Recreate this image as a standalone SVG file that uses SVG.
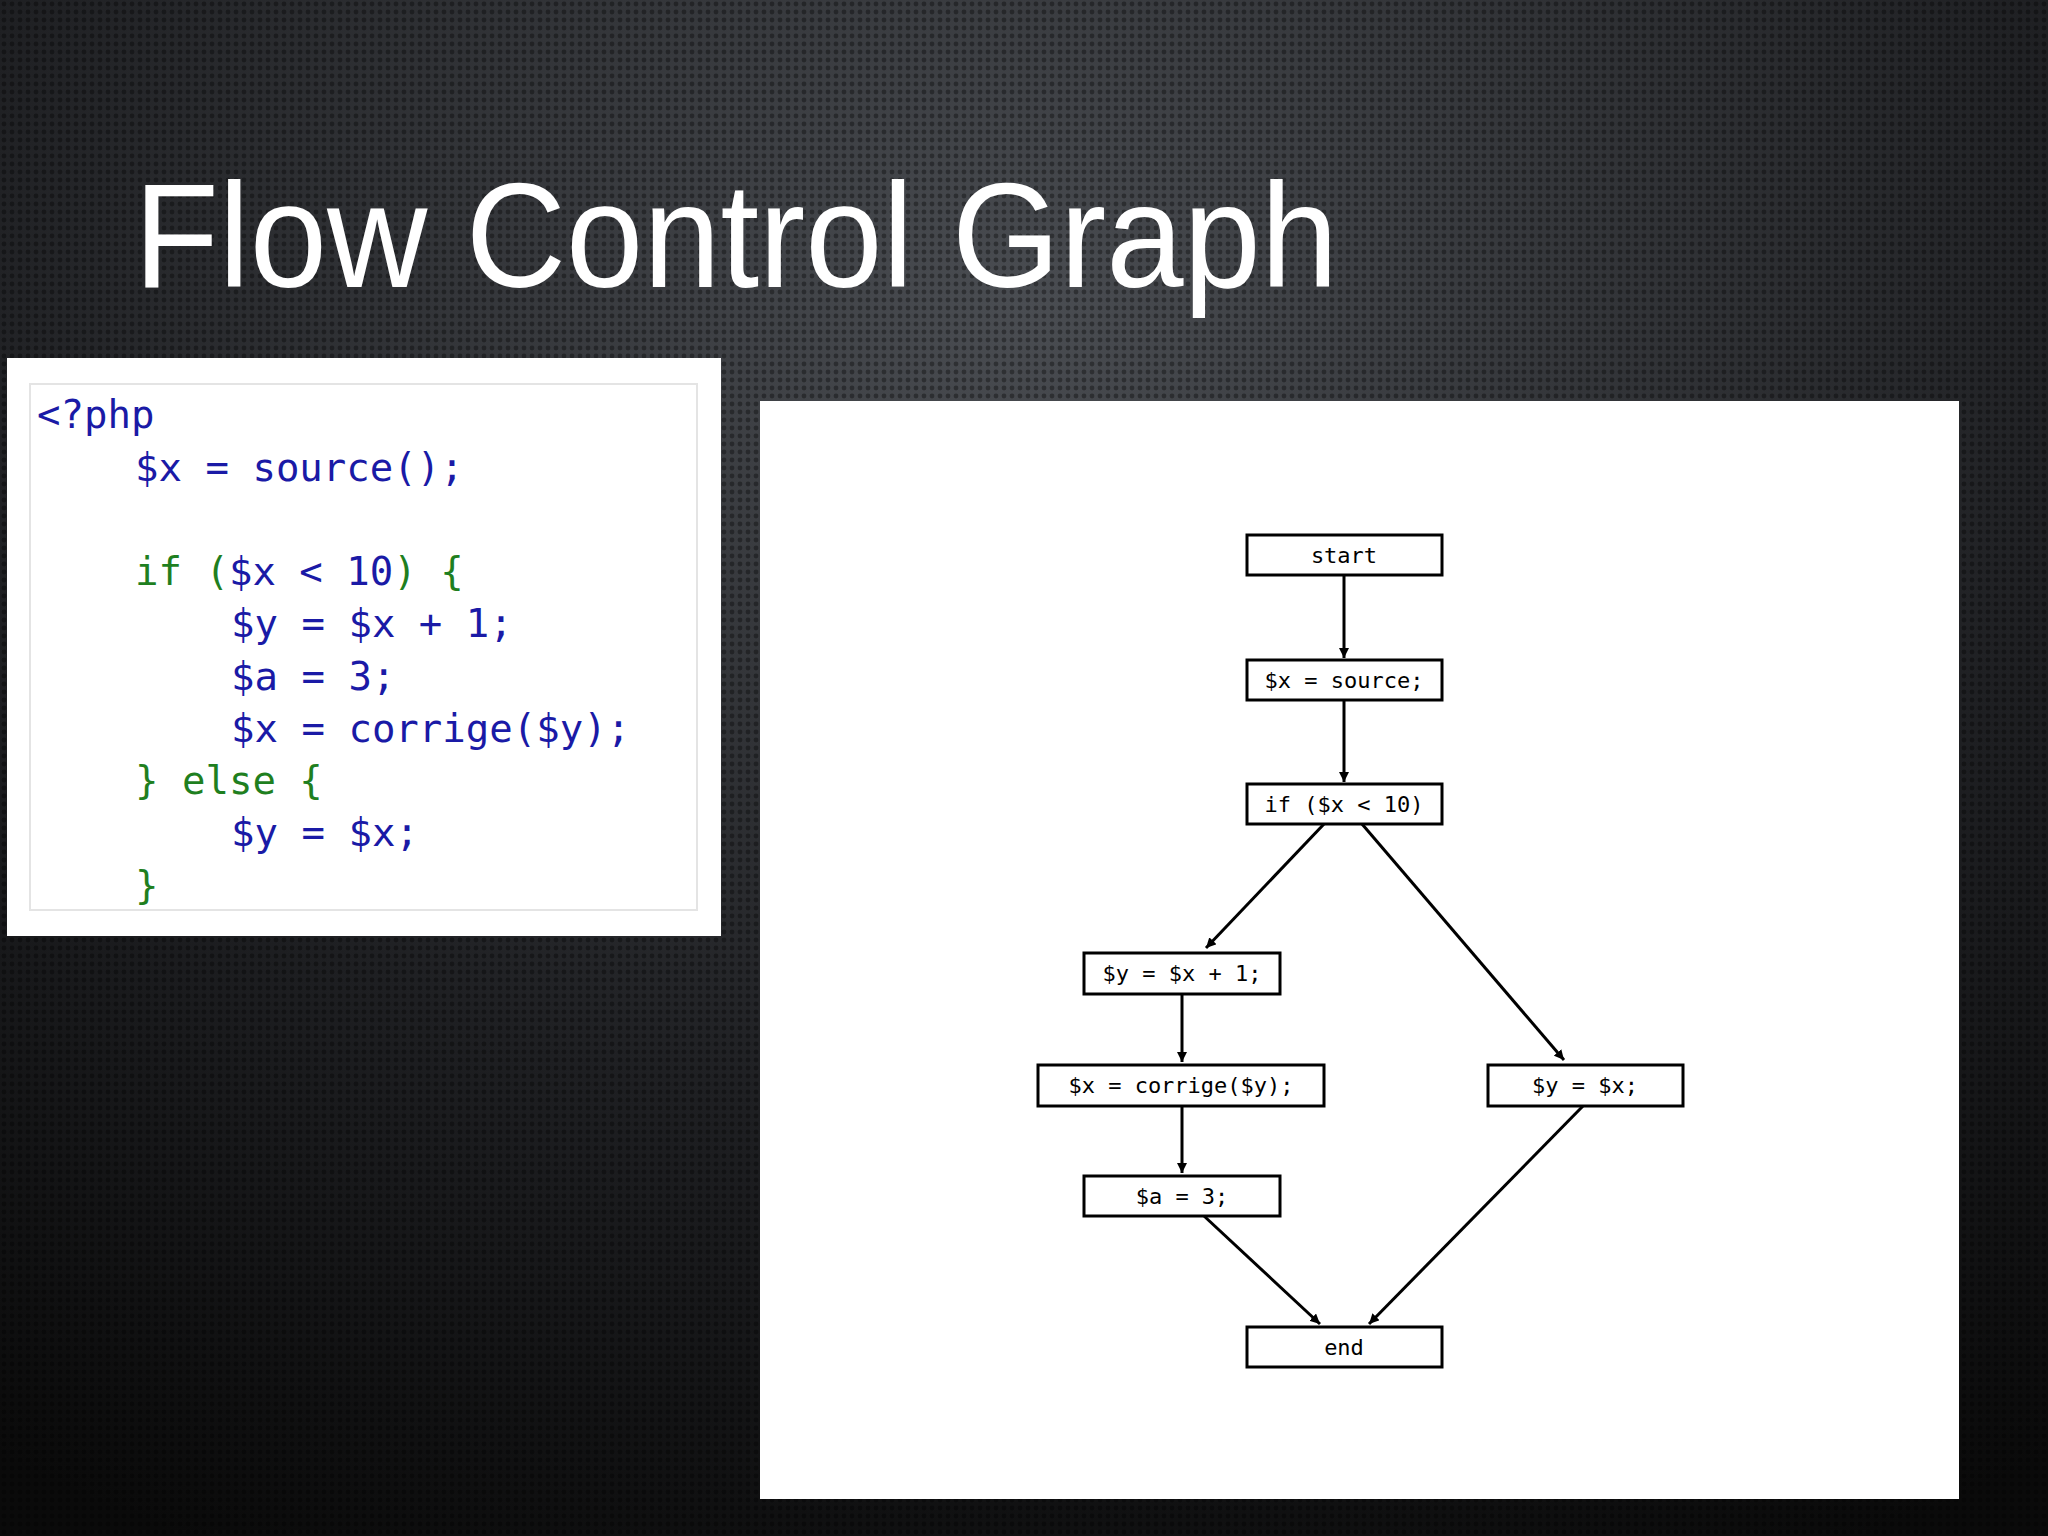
<svg xmlns="http://www.w3.org/2000/svg" width="2048" height="1536" viewBox="0 0 2048 1536">
<defs>
<radialGradient id="bg" cx="0.5" cy="0.2" r="0.9">
<stop offset="0" stop-color="#4a4d52"/><stop offset="0.6" stop-color="#1e1f22"/><stop offset="1" stop-color="#0a0a0a"/>
</radialGradient>
<pattern id="dots" width="8" height="8" patternUnits="userSpaceOnUse">
<circle cx="4" cy="4" r="2.4" fill="#000" opacity="0.35"/>
</pattern>
<marker id="ah" viewBox="0 0 10 10" refX="10" refY="5" markerWidth="10" markerHeight="10" markerUnits="userSpaceOnUse" orient="auto"><path d="M0,0 L10,5 L0,10 z" fill="#000"/></marker>
<style>
.n rect{fill:#fff;stroke:#000;stroke-width:3}
.n text{font-family:"DejaVu Sans Mono",monospace;font-size:22px;text-anchor:middle;fill:#000}
.c line{stroke:#000;stroke-width:3;marker-end:url(#ah)}
.code{font-family:"DejaVu Sans Mono","Liberation Mono",monospace;font-size:39px}
.b{fill:#1a1aa6}.g{fill:#1f7f1f}
</style>
<marker id="ah2"/>
</defs>
<rect width="2048" height="1536" fill="url(#bg)"/>
<rect width="2048" height="1536" fill="url(#dots)"/>
<text x="134" y="287" font-family="Liberation Sans, Helvetica, sans-serif" font-size="148" fill="#fff" textLength="1204" lengthAdjust="spacingAndGlyphs">Flow Control Graph</text>
<g id="code">
<rect x="7" y="358" width="714" height="578" fill="#fff"/>
<rect x="30" y="384" width="667" height="526" fill="#fff" stroke="#e4e4e4" stroke-width="2"/>
<text class="code" xml:space="preserve"><tspan x="37" y="428" class="b">&lt;?php</tspan><tspan x="135" y="481" class="b">$x = source();</tspan><tspan x="135" y="585"><tspan class="g">if (</tspan><tspan class="b">$x &lt; 10</tspan><tspan class="g">) {</tspan></tspan><tspan x="231" y="637" class="b">$y = $x + 1;</tspan><tspan x="231" y="690" class="b">$a = 3;</tspan><tspan x="231" y="742" class="b">$x = corrige($y);</tspan><tspan x="135" y="794" class="g">} else {</tspan><tspan x="231" y="846" class="b">$y = $x;</tspan><tspan x="135" y="899" class="g">}</tspan></text>
</g>
<rect x="760" y="401" width="1199" height="1098" fill="#fff"/>
<g class="c" id="connectors">
<line x1="1344" y1="575" x2="1344" y2="658"/>
<line x1="1344" y1="700" x2="1344" y2="782"/>
<line x1="1324" y1="824" x2="1206" y2="948"/>
<line x1="1362" y1="824" x2="1564" y2="1060"/>
<line x1="1182" y1="994" x2="1182" y2="1062"/>
<line x1="1182" y1="1106" x2="1182" y2="1173"/>
<line x1="1204" y1="1216" x2="1320" y2="1324"/>
<line x1="1583" y1="1106" x2="1369" y2="1324"/>
</g>
<g class="n" id="start"><rect x="1247" y="535" width="195" height="40"/><text x="1344" y="563">start</text></g>
<g class="n" id="source"><rect x="1247" y="660" width="195" height="40"/><text x="1344" y="688">$x = source;</text></g>
<g class="n" id="if"><rect x="1247" y="784" width="195" height="40"/><text x="1344" y="812">if ($x &lt; 10)</text></g>
<g class="n" id="yx1"><rect x="1084" y="953" width="196" height="41"/><text x="1182" y="981">$y = $x + 1;</text></g>
<g class="n" id="corrige"><rect x="1038" y="1065" width="286" height="41"/><text x="1181" y="1093">$x = corrige($y);</text></g>
<g class="n" id="yx"><rect x="1488" y="1065" width="195" height="41"/><text x="1585" y="1093">$y = $x;</text></g>
<g class="n" id="a3"><rect x="1084" y="1176" width="196" height="40"/><text x="1182" y="1204">$a = 3;</text></g>
<g class="n" id="end"><rect x="1247" y="1327" width="195" height="40"/><text x="1344" y="1355">end</text></g>
</svg>
